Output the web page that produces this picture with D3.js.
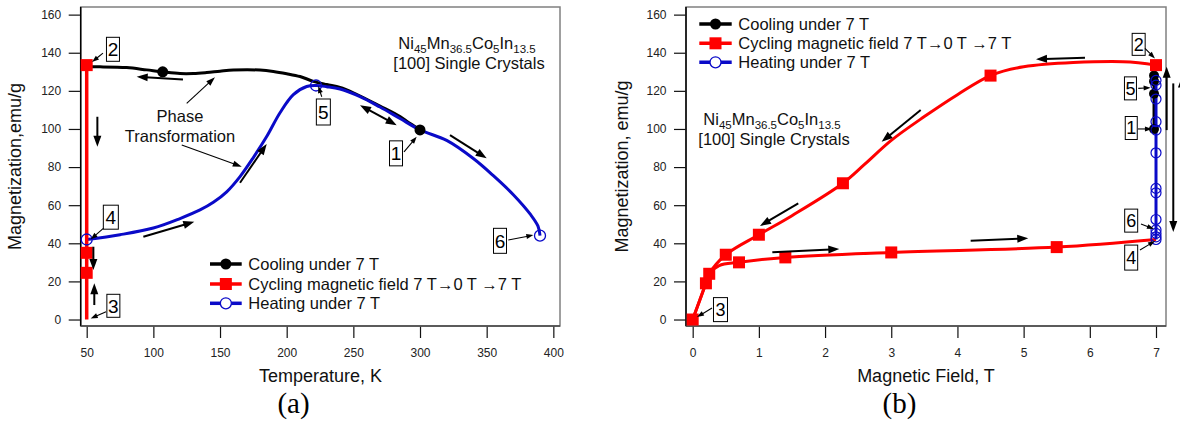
<!DOCTYPE html>
<html><head><meta charset="utf-8">
<script src="https://cdn.jsdelivr.net/npm/d3@7"></script>
<style>
body{margin:0;background:#fff;}
svg{display:block;font-family:"Liberation Sans",Arial,Helvetica,sans-serif;}
</style>
</head><body>
<svg id="chart" width="1180" height="422"></svg>
<script>
// ---------- DATA ----------
const yTicks = [0,20,40,60,80,100,120,140,160];
const tempTicks = [50,100,150,200,250,300,350,400];
const fieldTicks = [0,1,2,3,4,5,6,7];
const legendLabels = ["Cooling under 7 T", "Cycling magnetic field 7 T\u21920 T \u21927 T", "Heating under 7 T"];

// Panel (a): magnetization vs temperature
const coolA_T = [300,290,285,270,250,240,230,220,210,200,190,180,160,150,140,130,120,107,95,80,60,50];
const coolA_M = [99.5,104,106.5,112,119,121.8,123.3,125,127.5,129,130.2,130.9,130.9,130.3,129.6,129.1,129.1,130,131,132.2,132.6,132.6];
const coolA_markT = [107,300];
const coolA_markM = [130,99.5];
const cycA_T = [50,50];
const cycA_M = [0,133.5];
const cycA_markT = [50,50,50];
const cycA_markM = [133.5,35,24.5];
const heatA_T = [50,75,100,120,135,145,155,165,175,185,195,205,215,222,230,240,255,270,285,300,320,340,355,370,383,388.5,390];
const heatA_M = [42,44.5,48,53,57.5,61.5,67,75,85,96,108.5,118,122.3,122.8,122.2,121,117,111.5,105.5,99.5,94,84.5,75.5,65.5,55,49,44];
const heatA_markT = [50,222,390];
const heatA_markM = [42,122.8,44];

// Panel (b): magnetization vs magnetic field
const cycDownB_F = [7,6.5,5,4.5,4,3.5,3,2.6,2.27,1.5,1,0.5,0.25,0.2,0];
const cycDownB_M = [133.5,135.3,132.6,128,118,106.5,94,81.5,71.5,54.5,44.5,34,24,19,0];
const cycUpB_F = [0,0.2,0.25,0.4,0.7,1.4,3,5.5,7];
const cycUpB_M = [0,19,24,28.3,30,32.6,35.2,38,42];
const cycB_markF = [7,4.5,2.27,1,0.5,0.25,0.2,0,0.7,1.4,3,5.5];
const cycB_markM = [133.5,128,71.5,44.5,34,24,19,0,30,32.6,35.2,38];
const coolB_F = [6.97,6.97];
const coolB_M = [130,100];
const coolB_markF = [6.97,6.97,6.97,6.97];
const coolB_markM = [128,125,118.5,100];
const heatB_F = [7,7];
const heatB_M = [42,125.5];
const heatB_markF = [7,7,7,7,7,7,7,7,7,7,7,7,7];
const heatB_markM = [125.5,123,115.7,103.8,99.4,87.5,68.8,66.5,52.5,47,45.2,43.4,42];

// ---------- DRAWING ----------
const svg = d3.select('#chart');
const BLACK = '#000', RED = '#ff0000', BLUE = '#0a0ac8';
const yDomain = [-3.4, 164];
const TOP = 7, BOTTOM = 326;

function zip(a,b){ return a.map((v,i)=>[v,b[i]]); }

function arrow(g, x1,y1,x2,y2, o){
  o = Object.assign({len:10, wid:8, sw:2, both:false}, o||{});
  const dx=x2-x1, dy=y2-y1, L=Math.hypot(dx,dy), ux=dx/L, uy=dy/L;
  const head=(tx,ty,vx,vy)=>{
    const bx=tx-vx*o.len, by=ty-vy*o.len, px=-vy*o.wid/2, py=vx*o.wid/2;
    g.append('path').attr('d',`M${tx},${ty}L${bx+px},${by+py}L${bx-px},${by-py}Z`).attr('fill','#000');
  };
  const sx = o.both ? x1+ux*o.len*0.8 : x1, sy = o.both ? y1+uy*o.len*0.8 : y1;
  g.append('line').attr('x1',sx).attr('y1',sy).attr('x2',x2-ux*o.len*0.8).attr('y2',y2-uy*o.len*0.8)
    .attr('stroke','#000').attr('stroke-width',o.sw);
  head(x2,y2,ux,uy);
  if(o.both) head(x1,y1,-ux,-uy);
}

function numBox(g, cx, cy, w, h, txt, fs){
  g.append('rect').attr('x',cx-w/2).attr('y',cy-h/2).attr('width',w).attr('height',h)
    .attr('fill','#fff').attr('stroke','#000').attr('stroke-width',1);
  g.append('text').attr('x',cx).attr('y',cy).attr('dy','0.36em').attr('text-anchor','middle')
    .attr('font-size',fs).attr('fill','#000').text(txt);
}

function compText(g, cx, y0){
  const t = g.append('text').attr('x',cx).attr('y',y0).attr('text-anchor','middle').attr('font-size',16.5).attr('fill','#111');
  const parts = [['Ni',0],['45',1],['Mn',0],['36.5',1],['Co',0],['5',1],['In',0],['13.5',1]];
  let prev = 0;
  parts.forEach(([s,sub])=>{
    const shift = sub ? 4 : 0;
    t.append('tspan').attr('dy', shift-prev).attr('font-size', sub?11.5:16.5).text(s);
    prev = shift;
  });
  g.append('text').attr('x',cx+2).attr('y',y0+19.5).attr('text-anchor','middle').attr('font-size',16.5).attr('fill','#111')
    .text('[100] Single Crystals');
}

function legend(g, x0, x1, ys, tx){
  const cx=(x0+x1)/2;
  g.append('line').attr('x1',x0).attr('x2',x1).attr('y1',ys[0]).attr('y2',ys[0]).attr('stroke',BLACK).attr('stroke-width',3.5);
  g.append('circle').attr('cx',cx).attr('cy',ys[0]).attr('r',5.5).attr('fill',BLACK);
  g.append('line').attr('x1',x0).attr('x2',x1).attr('y1',ys[1]).attr('y2',ys[1]).attr('stroke',RED).attr('stroke-width',3.5);
  g.append('rect').attr('x',cx-6).attr('y',ys[1]-6).attr('width',12).attr('height',12).attr('fill',RED);
  g.append('line').attr('x1',x0).attr('x2',x1).attr('y1',ys[2]).attr('y2',ys[2]).attr('stroke',BLUE).attr('stroke-width',3.5);
  g.append('circle').attr('cx',cx).attr('cy',ys[2]).attr('r',5.5).attr('fill','#fff').attr('stroke',BLUE).attr('stroke-width',1.3);
  legendLabels.forEach((s,i)=>{
    g.append('text').attr('x',tx).attr('y',ys[i]).attr('dy','0.36em').attr('font-size',16.5).attr('fill','#111').text(s);
  });
}

function frame(g, x, y, xTicks, x0, x1, xTitle, xTitleX, yTitle, yTitleX, tag, tagX){
  const ax = g.append('g').attr('transform',`translate(${x0},0)`)
    .call(d3.axisLeft(y).tickValues(yTicks).tickSize(12).tickPadding(7.5));
  const bx = g.append('g').attr('transform',`translate(0,${BOTTOM})`)
    .call(d3.axisBottom(x).tickValues(xTicks).tickSize(12).tickPadding(10));
  [ax,bx].forEach(a=>{
    a.select('.domain').remove();
    a.selectAll('line').attr('stroke','#111').attr('stroke-width',1.2);
    a.selectAll('text').attr('font-size',12).attr('fill','#222').attr('font-family','"Liberation Sans",Arial,sans-serif');
  });
  g.append('rect').attr('x',x0).attr('y',TOP).attr('width',x1-x0).attr('height',BOTTOM-TOP)
    .attr('fill','none').attr('stroke','#808080').attr('stroke-width',1.5);
  g.append('line').attr('x1',x0).attr('x2',x0).attr('y1',TOP).attr('y2',BOTTOM).attr('stroke','#000').attr('stroke-width',1.5);
  g.append('line').attr('x1',x0).attr('x2',x1).attr('y1',BOTTOM).attr('y2',BOTTOM).attr('stroke','#444').attr('stroke-width',1.5);
  g.append('text').attr('x',xTitleX).attr('y',382).attr('text-anchor','middle').attr('font-size',18).attr('fill','#111').text(xTitle);
  g.append('text').attr('transform',`translate(${yTitleX},166.5) rotate(-90)`).attr('text-anchor','middle')
    .attr('font-size',18).attr('fill','#111').text(yTitle);
  g.append('text').attr('x',tagX).attr('y',413).attr('text-anchor','middle').attr('font-size',29)
    .attr('font-family','"Liberation Serif","Times New Roman",serif').attr('fill','#000').text(tag);
}

const curve = d3.curveCatmullRom.alpha(0.5);

// ===== Panel (a) =====
(function(){
  const g = svg.append('g');
  const x = d3.scaleLinear().domain([45.5,405]).range([80.7,560]);
  const y = d3.scaleLinear().domain(yDomain).range([BOTTOM,TOP]);
  frame(g, x, y, tempTicks, 80.7, 560, 'Temperature, K', 320.5, 'Magnetization,emu/g', 21, '(a)', 293.5);
  const line = d3.line().x(d=>x(d[0])).y(d=>y(d[1])).curve(curve);
  g.append('path').attr('d',line(zip(coolA_T,coolA_M))).attr('fill','none').attr('stroke',BLACK).attr('stroke-width',3);
  g.append('path').attr('d',line(zip(heatA_T,heatA_M))).attr('fill','none').attr('stroke',BLUE).attr('stroke-width',3);
  g.append('path').attr('d',d3.line().x(d=>x(d[0])).y(d=>y(d[1]))(zip(cycA_T,cycA_M))).attr('fill','none').attr('stroke',RED).attr('stroke-width',3.5);
  zip(coolA_markT,coolA_markM).forEach(d=>g.append('circle').attr('cx',x(d[0])).attr('cy',y(d[1])).attr('r',5.5).attr('fill',BLACK));
  zip(cycA_markT,cycA_markM).forEach(d=>g.append('rect').attr('x',x(d[0])-6).attr('y',y(d[1])-6).attr('width',12).attr('height',12).attr('fill',RED));
  zip(heatA_markT,heatA_markM).forEach(d=>g.append('circle').attr('cx',x(d[0])).attr('cy',y(d[1])).attr('r',5.5).attr('fill','none').attr('stroke',BLUE).attr('stroke-width',1.3));

  const A=(t1,m1,t2,m2,o)=>arrow(g,x(t1),y(m1),x(t2),y(m2),o);
  const small={len:7,wid:5,sw:1.1}, thin={len:9,wid:6,sw:1.1}, big={len:11,wid:8,sw:2};
  numBox(g, x(69.7), y(141.8), 13, 24, '2', 19); A(62.2,139.8,54,135.1,small);
  numBox(g, x(227.5), y(108.9), 14, 26, '5', 19); A(226.3,116.9,223.7,122.5,small);
  numBox(g, x(282), y(87.2), 13, 25, '1', 19); A(288,88,297.5,95.9,small);
  numBox(g, x(360), y(41.3), 13, 25, '6', 19); A(366.2,41.7,385,44.3,small);
  numBox(g, x(68.1), y(53.7), 15, 24, '4', 19); A(62.5,47.8,53,42.1,small);
  numBox(g, x(70), y(7.2), 13, 23, '3', 19); A(64.5,4.1,53,0.6,small);
  A(58,106.4,58,90.7,big);
  A(122.2,126,87.5,127.4,big);
  A(165,71.8,185,92.1,big);
  A(255,112.5,282.5,102,Object.assign({both:true},big));
  A(322.5,96.8,350,84.6,big);
  A(55,38.2,55,26,big);
  A(55.7,7.6,55.7,19,big);
  A(92.5,43.4,130.7,51.3,big);
  g.append('text').attr('x',180).attr('y',122.3).attr('text-anchor','middle').attr('font-size',16.5).attr('fill','#111').text('Phase');
  g.append('text').attr('x',180).attr('y',141.7).attr('text-anchor','middle').attr('font-size',16.5).attr('fill','#111').text('Transformation');
  A(125,113.4,146.2,127.1,thin);
  A(121.3,91.6,166.3,80.2,thin);
  compText(g, 467, 49);
  legend(g, 210, 241.7, [264,284,303.3], 248.3);
})();

// ===== Panel (b) =====
(function(){
  const g = svg.append('g');
  const x = d3.scaleLinear().domain([-0.101,7.151]).range([686,1166]);
  const y = d3.scaleLinear().domain(yDomain).range([BOTTOM,TOP]);
  frame(g, x, y, fieldTicks, 686, 1166, 'Magnetic Field, T', 926, 'Magnetization, emu/g', 628, '(b)', 899.5);
  const line = d3.line().x(d=>x(d[0])).y(d=>y(d[1])).curve(curve);
  const straight = d3.line().x(d=>x(d[0])).y(d=>y(d[1]));
  g.append('path').attr('d',straight(zip(coolB_F,coolB_M))).attr('fill','none').attr('stroke',BLACK).attr('stroke-width',3);
  g.append('path').attr('d',line(zip(cycDownB_F,cycDownB_M))).attr('fill','none').attr('stroke',RED).attr('stroke-width',3);
  g.append('path').attr('d',line(zip(cycUpB_F,cycUpB_M))).attr('fill','none').attr('stroke',RED).attr('stroke-width',3);
  g.append('path').attr('d',straight(zip(heatB_F,heatB_M))).attr('fill','none').attr('stroke',BLUE).attr('stroke-width',3);
  zip(coolB_markF,coolB_markM).forEach(d=>g.append('circle').attr('cx',x(d[0])).attr('cy',y(d[1])).attr('r',5).attr('fill',BLACK));
  zip(cycB_markF,cycB_markM).forEach(d=>g.append('rect').attr('x',x(d[0])-6).attr('y',y(d[1])-6).attr('width',12).attr('height',12).attr('fill',RED));
  zip(heatB_markF,heatB_markM).forEach(d=>g.append('circle').attr('cx',x(d[0])).attr('cy',y(d[1])).attr('r',5).attr('fill','none').attr('stroke',BLUE).attr('stroke-width',1.2));

  const A=(f1,m1,f2,m2,o)=>arrow(g,x(f1),y(m1),x(f2),y(m2),o);
  const small={len:7,wid:5,sw:1.1}, big={len:11,wid:8,sw:2};
  numBox(g, x(6.738), y(144.4), 13, 22, '2', 18); A(6.833,142.3,6.984,137,small);
  numBox(g, x(6.614), y(121.3), 12, 23, '5', 18); A(6.732,121.3,6.919,121.6,small);
  numBox(g, x(6.626), y(100.5), 12, 23, '1', 18); A(6.727,100,6.939,100,small);
  numBox(g, x(6.625), y(51.9), 13, 23, '6', 18); A(6.773,50.1,6.969,47.5,small);
  numBox(g, x(6.625), y(32.5), 13, 25, '4', 18); A(6.758,36.5,6.985,41.2,small);
  numBox(g, x(0.42), y(5.2), 14, 24, '3', 18); A(0.292,6,0.065,1.3,small);
  A(5.927,137.4,5.187,136.6,big);
  A(3.445,109.9,2.855,93.3,big);
  A(1.595,61,1.017,49.1,big);
  A(1.203,35.3,2.215,37,big);
  A(4.2,41.3,5.07,42.6,big);
  A(7.161,99.4,7.161,132.6,big);
  A(7.261,123.9,7.261,45.9,big);
  A(7.392,47,7.392,127.5,big);
  compText(g, 772, 125);
  legend(g, 699.3, 731.7, [24,43.3,62.3], 738.3);
})();
</script>
</body></html>
